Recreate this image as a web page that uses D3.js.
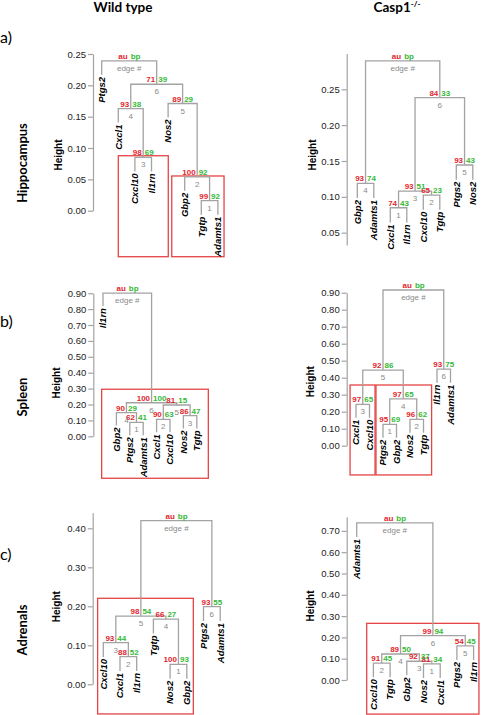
<!DOCTYPE html>
<html><head><meta charset="utf-8">
<script src="https://cdn.jsdelivr.net/npm/d3@7"></script>
<style>body{margin:0;background:#fff}svg{display:block}</style>
</head><body>
<svg id="c" width="486" height="715"></svg>
<script>
// ---------- DATA ----------
// merges: negative = leaf (1-based, in display order), positive = earlier merge (1-based)
const aWT_leaves = ["Ptgs2","Cxcl1","Cxcl10","Il1rn","Nos2","Gbp2","Tgtp","Adamts1"];
const aWT_merge  = [[-7,-8],[-6,1],[-3,-4],[-2,3],[-5,2],[4,5],[-1,6]];
const aWT_height = [0.016,0.054,0.085,0.163,0.171,0.2017,0.239];
const aWT_au     = [99,100,98,93,89,71];
const aWT_bp     = [92,92,69,38,29,39];
const aWT_ticks  = [0,0.05,0.10,0.15,0.20,0.25];

const aKO_leaves = ["Gbp2","Adamts1","Cxcl1","Il1rn","Cxcl10","Tgtp","Ptgs2","Nos2"];
const aKO_merge  = [[-3,-4],[-5,-6],[1,2],[-1,-2],[-7,-8],[3,5],[4,6]];
const aKO_height = [0.0848,0.1025,0.108,0.1188,0.1444,0.2384,0.2897];
const aKO_au     = [74,65,93,93,93,84];
const aKO_bp     = [43,23,51,74,43,33];
const aKO_ticks  = [0.05,0.10,0.15,0.20,0.25];

const bWT_leaves = ["Il1rn","Gbp2","Ptgs2","Adamts1","Cxcl1","Cxcl10","Nos2","Tgtp"];
const bWT_merge  = [[-3,-4],[-5,-6],[-7,-8],[-2,1],[2,3],[4,5],[-1,6]];
const bWT_height = [0.088,0.107,0.13,0.149,0.197,0.211,0.90];
const bWT_au     = [62,90,86,90,81,100];
const bWT_bp     = [41,63,47,29,15,100];
const bWT_ticks  = [0,0.1,0.2,0.3,0.4,0.5,0.6,0.7,0.8,0.9];

const bKO_leaves = ["Cxcl1","Cxcl10","Ptgs2","Gbp2","Nos2","Tgtp","Il1rn","Adamts1"];
const bKO_merge  = [[-3,-4],[-5,-6],[-1,-2],[1,2],[3,4],[-7,-8],[5,6]];
const bKO_height = [0.126,0.155,0.2435,0.275,0.445,0.45,0.916];
const bKO_au     = [95,96,97,97,92,93];
const bKO_bp     = [69,62,65,65,86,75];
const bKO_ticks  = [0,0.1,0.2,0.3,0.4,0.5,0.6,0.7,0.8,0.9];

const cWT_leaves = ["Cxcl10","Cxcl1","Il1rn","Tgtp","Nos2","Gbp2","Ptgs2","Adamts1"];
const cWT_merge  = [[-5,-6],[-2,-3],[-1,2],[-4,1],[3,4],[-7,-8],[5,6]];
const cWT_height = [0.051,0.071,0.107,0.167,0.175,0.199,0.4195];
const cWT_au     = [100,88,93,66,98,93];
const cWT_bp     = [93,52,44,27,54,55];
const cWT_ticks  = [0,0.1,0.2,0.3,0.4];

const cKO_leaves = ["Adamts1","Cxcl10","Tgtp","Gbp2","Nos2","Cxcl1","Ptgs2","Il1rn"];
const cKO_merge  = [[-5,-6],[-2,-3],[-4,1],[2,3],[-7,-8],[4,5],[-1,6]];
const cKO_height = [0.076,0.079,0.088,0.122,0.16,0.208,0.738];
const cKO_au     = [81,91,92,89,54,99];
const cKO_bp     = [34,45,37,50,45,94];
const cKO_ticks  = [0,0.1,0.2,0.3,0.4,0.5,0.6,0.7];

// ---------- LAYOUT ----------
const panels = [
 {leaves:aWT_leaves,merge:aWT_merge,height:aWT_height,au:aWT_au,bp:aWT_bp,ticks:aWT_ticks,
  xRange:[101.7,217.9],yDomain:[0,0.25],yRange:[210.7,54.0],axisX:93,axisDomain:[0,0.25],
  hLab:[58,155],boxes:[[1.0,4.01,0.0877,-0.0734],[4.22,7.37,0.0554,-0.0734]]},
 {leaves:aKO_leaves,merge:aKO_merge,height:aKO_height,au:aKO_au,bp:aKO_bp,ticks:aKO_ticks,
  xRange:[357.3,472.8],yDomain:[0.05,0.25],yRange:[232.7,89.3],axisX:346.7,axisDomain:[0.033,0.30],
  hLab:[312.7,155],boxes:[]},
 {leaves:bWT_leaves,merge:bWT_merge,height:bWT_height,au:bWT_au,bp:bWT_bp,ticks:bWT_ticks,
  xRange:[103,196.8],yDomain:[0,0.9],yRange:[436.3,293.2],axisX:93.3,axisDomain:[0,0.9],
  hLab:[56.7,383],boxes:[[-0.1,7.86,0.296,-0.264]]},
 {leaves:bKO_leaves,merge:bKO_merge,height:bKO_height,au:bKO_au,bp:bKO_bp,ticks:bKO_ticks,
  xRange:[356,450.5],yDomain:[0,0.9],yRange:[445.7,292.7],axisX:346.7,axisDomain:[0,0.9],
  hLab:[310.7,381.7],boxes:[[-0.44,1.41,0.357,-0.172],[1.48,5.6,0.357,-0.172]]},
 {leaves:cWT_leaves,merge:cWT_merge,height:cWT_height,au:cWT_au,bp:cWT_bp,ticks:cWT_ticks,
  xRange:[103.3,220.2],yDomain:[0,0.4],yRange:[684.3,528.3],axisX:92.7,axisDomain:[0,0.44],
  hLab:[56.7,606.7],boxes:[[-0.34,5.39,0.2205,-0.076]]},
 {leaves:cKO_leaves,merge:cKO_merge,height:cKO_height,au:cKO_au,bp:cKO_bp,ticks:cKO_ticks,
  xRange:[356.7,473.6],yDomain:[0,0.7],yRange:[680,530.9],axisX:346.7,axisDomain:[0,0.767],
  hLab:[310,606],boxes:[[0.6,7.32,0.266,-0.16]]}
];

const RED="#e3262e", GREEN="#36b936", GRAY="#8a8a8a", LINE="#a3a3a3", BOX="#e54444";
const NUMF="'Liberation Sans',Arial,sans-serif";
const svg = d3.select("#c");

function drawPanel(p){
  const g = svg.append("g");
  const n = p.leaves.length;
  const x = d3.scaleLinear().domain([0,n-1]).range(p.xRange);
  const y = d3.scaleLinear().domain(p.yDomain).range(p.yRange);
  const hang = 0.1*(d3.max(p.height)-d3.min(p.height));

  // boxes
  p.boxes.forEach(b=>{
    g.append("rect").attr("x",x(b[0])).attr("y",y(b[2]))
     .attr("width",x(b[1])-x(b[0])).attr("height",y(b[3])-y(b[2]))
     .attr("fill","none").attr("stroke",BOX).attr("stroke-width",1.3);
  });

  // axis
  const ya = d3.scaleLinear().domain(p.axisDomain).range(p.axisDomain.map(y));
  const ax = g.append("g").attr("transform",`translate(${p.axisX},0)`)
    .call(d3.axisLeft(ya).tickValues(p.ticks).tickFormat(d3.format(".2f")).tickSize(5).tickSizeOuter(0).tickPadding(2));
  ax.select(".domain").attr("stroke",LINE).attr("stroke-width",1.2);
  ax.selectAll(".tick line").attr("stroke",LINE).attr("stroke-width",1.2);
  ax.selectAll(".tick text").attr("fill","#222").style("font-family",NUMF).style("font-size","9.5px");

  g.append("text").attr("transform",`translate(${p.hLab[0]},${p.hLab[1]}) rotate(-90)`)
   .attr("text-anchor","middle").attr("dy","0.35em")
   .style("font-family",NUMF).style("font-weight","bold").style("font-size","10px").text("Height");

  // tree
  const nodes = [];
  const leafBottom = [];
  p.merge.forEach((m,k)=>{
    const H = p.height[k];
    const ch = m.map(c=>{
      if(c<0){ const i=-c-1; leafBottom[i]=H-hang; return {xv:i,h:H-hang}; }
      return nodes[c-1];
    });
    g.append("path")
     .attr("d",`M${x(ch[0].xv)},${y(ch[0].h)}V${y(H)}H${x(ch[1].xv)}V${y(ch[1].h)}`)
     .attr("fill","none").attr("stroke",LINE).attr("stroke-width",1.3);
    nodes.push({xv:(ch[0].xv+ch[1].xv)/2,h:H});
  });

  // leaf labels
  p.leaves.forEach((lab,i)=>{
    g.append("text").attr("transform",`translate(${x(i)},${y(leafBottom[i])+2}) rotate(-90)`)
     .attr("text-anchor","end").attr("dy","0.35em")
     .style("font-family",NUMF).style("font-weight","bold").style("font-style","italic")
     .style("font-size","9.5px").text(lab);
  });

  // au / bp / edge labels
  nodes.forEach((nd,k)=>{
    const root = k===nodes.length-1;
    const px=x(nd.xv), py=y(nd.h);
    g.append("text").attr("x",px-1.5).attr("y",py-2).attr("text-anchor","end")
     .attr("fill",RED).style("font-family",NUMF).style("font-weight","bold").style("font-size","8px")
     .text(root?"au":p.au[k]);
    g.append("text").attr("x",px+1.5).attr("y",py-2).attr("text-anchor","start")
     .attr("fill",GREEN).style("font-family",NUMF).style("font-weight","bold").style("font-size","8px")
     .text(root?"bp":p.bp[k]);
    g.append("text").attr("x",px).attr("y",py+10).attr("text-anchor","middle")
     .attr("fill",GRAY).style("font-family",NUMF).style("font-size","8px")
     .text(root?"edge #":(k+1));
  });
}
panels.forEach(drawPanel);

// titles
const TF="Lato,'Open Sans',sans-serif";
svg.append("text").attr("x",123).attr("y",12).attr("text-anchor","middle")
  .style("font-family",TF).style("font-weight","bold").style("font-size","13.5px").text("Wild type");
const t2 = svg.append("text").attr("x",397).attr("y",12).attr("text-anchor","middle")
  .style("font-family",TF).style("font-weight","bold").style("font-size","13.5px");
t2.append("tspan").text("Casp1");
t2.append("tspan").attr("dy",-5).style("font-size","8px").text("-/-");

[["a)",43],["b)",327],["c)",560]].forEach(d=>{
  svg.append("text").attr("x",0).attr("y",d[1]).style("font-family",TF).style("font-size","16px").text(d[0]);
});
[["Hippocampus",163],["Spleen",397],["Adrenals",630]].forEach(d=>{
  svg.append("text").attr("transform",`translate(22,${d[1]}) rotate(-90)`).attr("text-anchor","middle")
   .attr("dy","0.35em").style("font-family",TF).style("font-weight","bold").style("font-size","13px").text(d[0]);
});
</script>
</body></html>
